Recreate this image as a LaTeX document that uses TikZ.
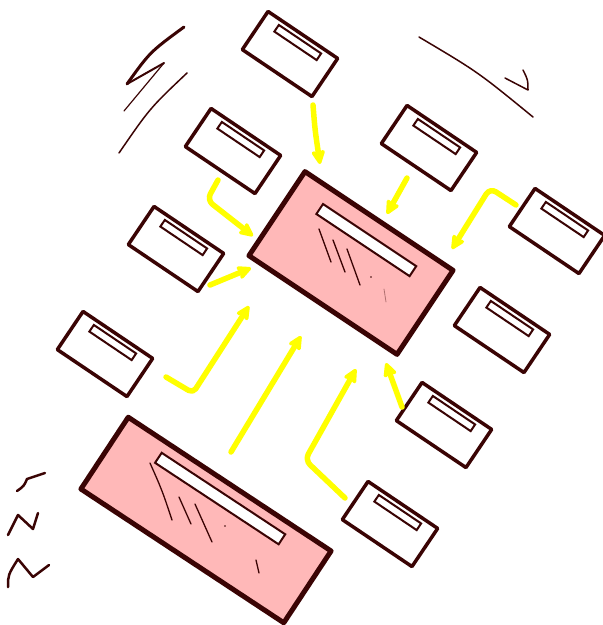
\documentclass[tikz,border=0pt]{standalone}
\usetikzlibrary{arrows.meta,calc}
\definecolor{ink}{RGB}{58,4,4}
\definecolor{pinkfill}{RGB}{255,184,184}
\definecolor{yel}{RGB}{255,255,0}
\tikzset{
 sbox/.style={draw=ink, line width=3.5pt, fill=white, minimum width=84pt, minimum height=46pt, inner sep=0pt, rotate=-34, line join=round},
 sbar/.style={draw=ink, line width=2pt, fill=white, minimum width=51pt, minimum height=8pt, inner sep=0pt, rotate=-34},
 bbox/.style={draw=ink, line width=5pt, fill=pinkfill, inner sep=0pt, line join=round},
 bbar/.style={draw=ink, line width=2pt, fill=white, inner sep=0pt},
 yarrow/.style={draw=yel, line width=5.5pt, line cap=round, line join=round, -{Stealth[length=17pt,width=16pt,inset=3pt,round]}},
 scrib/.style={draw=ink, line width=1.3pt, line cap=round, line join=round},
}
\begin{document}
\begin{tikzpicture}[x=1pt,y=-1pt]
\useasboundingbox (0,0) rectangle (603,625);
% big boxes
\node[bbox, minimum width=178pt, minimum height=101pt, rotate=-33.7] (big1) at (351,263) {};
\node[bbar, minimum width=112pt, minimum height=12pt, rotate=-33.7] (bar1) at ($(big1.center)!0.52!(big1.north)$) {};
\node[bbox, minimum width=243pt, minimum height=86pt, rotate=-33.4] (big2) at (206,520) {};
\node[bbar, minimum width=148pt, minimum height=12pt, rotate=-33.4] (bar2) at ($(big2.center)!0.565!(big2.north)$) {};
% small boxes
\foreach \n/\x/\y in {A/290/54, B/233/151, C/429/148, D/557/231, E/176/249, F/105/354, G/502/330, H/444/425, I/390/524}{
  \node[sbox] (\n) at (\x,\y) {};
  \node[sbar] (\n bar) at ($(\n.center)!0.56!(\n.north)$) {};
}
% scribbles inside big boxes
\draw[scrib] (319,229) .. controls (325,246) .. (331,262);
\draw[scrib] (333,240) -- (345,272);
\draw[scrib] (347,249) -- (360,285);
\fill[ink] (371,277) circle (0.8pt);
\draw[scrib, draw=ink!40!pinkfill, line width=0.8pt] (384,289) -- (386,302);
\draw[scrib] (150,463) .. controls (162,490) .. (172,520);
\draw[scrib] (179,497) -- (191,524);
\draw[scrib] (195,504) -- (212,542);
\fill[ink] (225,526) circle (0.8pt);
\draw[scrib] (256,560) -- (259,573);
% arrow coordinates
\coordinate (a1s) at (313,105); \coordinate (a1e) at (320,164);
\coordinate (a2s) at (218,180); \coordinate (a2c) at (207,200); \coordinate (a2e) at (253,236);
\coordinate (a3s) at (210,285); \coordinate (a3e) at (251,268);
\coordinate (a4s) at (407,178); \coordinate (a4e) at (387,214);
\coordinate (a5s) at (516,205); \coordinate (a5c) at (490,188); \coordinate (a5e) at (452,249);
\coordinate (a6s) at (166,377); \coordinate (a6c) at (193,393); \coordinate (a6e) at (249,306);
\coordinate (a7s) at (231,452); \coordinate (a7e) at (301,336);
\coordinate (a8s) at (345,498); \coordinate (a8c) at (305,460); \coordinate (a8e) at (356,369);
\coordinate (a9s) at (402,407); \coordinate (a9e) at (386,363);
\draw[yarrow] (a1s) .. controls (315,130) .. (a1e);
\draw[yarrow, rounded corners=7pt] (a2s) -- (a2c) -- (a2e);
\draw[yarrow] (a3s) -- (a3e);
\draw[yarrow] (a4s) -- (a4e);
\draw[yarrow, rounded corners=7pt] (a5s) -- (a5c) -- (a5e);
\draw[yarrow, rounded corners=5pt] (a6s) -- (a6c) -- (a6e);
\draw[yarrow] (a7s) -- (a7e);
\draw[yarrow, rounded corners=7pt] (a8s) -- (a8c) -- (a8e);
\draw[yarrow] (a9s) -- (a9e);
% decorative strokes
\draw[ink, line width=3pt, line cap=round] (184,27) .. controls (150,52) .. (127,84);
\draw[ink, line width=2pt, line cap=round, line join=round] (127,84) -- (164,63);
\draw[ink, line width=1.2pt, line cap=round] (164,63) -- (124,111);
\draw[ink, line width=1.5pt, line cap=round] (187,73) .. controls (150,108) .. (119,153);
\draw[ink, line width=1.5pt, line cap=round] (419,37) .. controls (478,72) .. (533,117);
\draw[ink, line width=1.5pt, line cap=round, line join=round] (505,78) -- (528,90) .. controls (528,80) .. (523,70);
\draw[ink, line width=2.5pt, line cap=round, line join=round] (45,473) -- (27,479) .. controls (24,486) .. (17,491);
\draw[ink, line width=2.5pt, line cap=round, line join=round] (8,535) -- (18,515) -- (33,529) -- (38,513);
\draw[ink, line width=2.5pt, line cap=round, line join=round] (8,587) .. controls (8,575) .. (18,559) -- (33,577) -- (49,565);
\end{tikzpicture}
\end{document}
